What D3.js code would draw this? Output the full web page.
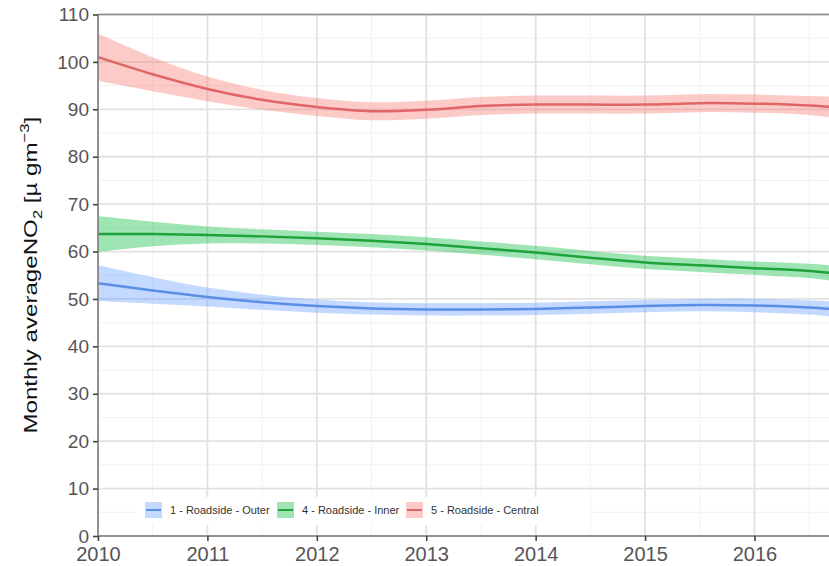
<!DOCTYPE html>
<html>
<head>
<meta charset="utf-8">
<script src="https://cdn.jsdelivr.net/npm/d3@7"></script>
<style>
  html, body { margin: 0; padding: 0; background: #fff; }
  svg { display: block; font-family: "Liberation Sans", Arial, sans-serif; }
</style>
</head>
<body>
<svg id="chart" width="829" height="566"></svg>
<script>
// Smoothed monthly NO2 trends per site type, sampled every half year
const years = [2010, 2010.5, 2011, 2011.5, 2012, 2012.5, 2013, 2013.5, 2014, 2014.5, 2015, 2015.5, 2016, 2016.5, 2016.8];

const outerMean = [53.3, 51.8, 50.4, 49.3, 48.5, 48.0, 47.8, 47.8, 47.9, 48.2, 48.5, 48.7, 48.6, 48.2, 47.7];
const outerHalf = [3.8, 2.8, 2.0, 1.6, 1.4, 1.3, 1.3, 1.3, 1.3, 1.3, 1.3, 1.3, 1.4, 1.5, 1.7];

const innerMean = [63.7, 63.7, 63.5, 63.2, 62.8, 62.3, 61.6, 60.7, 59.8, 58.7, 57.7, 57.1, 56.5, 55.9, 55.2];
const innerHalf = [3.8, 2.6, 1.8, 1.5, 1.4, 1.4, 1.4, 1.4, 1.4, 1.4, 1.4, 1.4, 1.4, 1.5, 1.7];

const centralMean = [101.0, 97.4, 94.3, 92.0, 90.5, 89.6, 89.9, 90.7, 91.0, 91.0, 91.0, 91.3, 91.2, 90.8, 90.3];
const centralHalf = [5.0, 3.6, 2.6, 2.1, 1.9, 1.9, 1.9, 1.9, 1.9, 1.9, 1.9, 1.9, 1.9, 2.0, 2.3];

const seriesNames = ["1 - Roadside - Outer", "4 - Roadside - Inner", "5 - Roadside - Central"];
const lineColors = ["#5b8fe6", "#1fa23a", "#e06666"];
const fillColors = ["#619CFF", "#00BA38", "#F8766D"];

const xTicks = [2010, 2011, 2012, 2013, 2014, 2015, 2016];
const yTicks = [0, 10, 20, 30, 40, 50, 60, 70, 80, 90, 100, 110];

const series = [
  { name: seriesNames[0], mean: outerMean, half: outerHalf, line: lineColors[0], fill: fillColors[0] },
  { name: seriesNames[1], mean: innerMean, half: innerHalf, line: lineColors[1], fill: fillColors[1] },
  { name: seriesNames[2], mean: centralMean, half: centralHalf, line: lineColors[2], fill: fillColors[2] }
];

const svg = d3.select("#chart");
const pLeft = 98, pTop = 14.5, pBottom = 536, pRight = 842;

const x = d3.scaleLinear().domain([2010, 2016.8]).range([pLeft, pRight]);
const y = d3.scaleLinear().domain([0, 110]).range([pBottom, pTop]);

// grid: minor then major
const minorX = d3.range(2010.5, 2016.8, 1);
const minorY = d3.range(5, 110, 10);
const grid = svg.append("g");
grid.selectAll(".mx").data(minorX).join("line")
  .attr("x1", d => x(d)).attr("x2", d => x(d)).attr("y1", pTop).attr("y2", pBottom)
  .attr("stroke", "#f1f1f1").attr("stroke-width", 1);
grid.selectAll(".my").data(minorY).join("line")
  .attr("x1", pLeft).attr("x2", pRight).attr("y1", d => y(d)).attr("y2", d => y(d))
  .attr("stroke", "#f1f1f1").attr("stroke-width", 1);
grid.selectAll(".Mx").data(xTicks).join("line")
  .attr("x1", d => x(d)).attr("x2", d => x(d)).attr("y1", pTop).attr("y2", pBottom)
  .attr("stroke", "#e2e2e2").attr("stroke-width", 1.8);
grid.selectAll(".My").data(yTicks).join("line")
  .attr("x1", pLeft).attr("x2", pRight).attr("y1", d => y(d)).attr("y2", d => y(d))
  .attr("stroke", "#e2e2e2").attr("stroke-width", 1.8);

// ribbons and smoothed lines
const curve = d3.curveCatmullRom.alpha(0.5);
const area = d3.area()
  .x((d, i) => x(years[i]))
  .y0(d => y(d[0] - d[1]))
  .y1(d => y(d[0] + d[1]))
  .curve(curve);
const line = d3.line()
  .x((d, i) => x(years[i]))
  .y(d => y(d))
  .curve(curve);

series.forEach(s => {
  const pts = s.mean.map((m, i) => [m, s.half[i]]);
  svg.append("path").attr("d", area(pts))
    .attr("fill", s.fill).attr("fill-opacity", 0.38);
});
series.forEach(s => {
  svg.append("path").attr("d", line(s.mean))
    .attr("fill", "none").attr("stroke", s.line).attr("stroke-width", 2.5);
});

// panel border (top) and axis lines
svg.append("line").attr("x1", pLeft).attr("x2", pRight).attr("y1", pTop).attr("y2", pTop)
  .attr("stroke", "#8a8a8a").attr("stroke-width", 1.6);

const xAxis = d3.axisBottom(x).tickValues(xTicks).tickFormat(d3.format("d")).tickSize(5).tickPadding(6);
const gx = svg.append("g").attr("transform", `translate(0,${pBottom})`).call(xAxis);
gx.select(".domain").attr("d", `M${pLeft},0H${pRight}`).attr("stroke", "#777").attr("stroke-width", 1.6);
gx.selectAll(".tick line").attr("stroke", "#444").attr("stroke-width", 1.6);
gx.selectAll(".tick text").attr("fill", "#555").attr("font-size", 20)
  .attr("font-family", "Liberation Sans, Arial, sans-serif");

const yAxis = d3.axisLeft(y).tickValues(yTicks).tickSize(5).tickPadding(4);
const gy = svg.append("g").attr("transform", `translate(${pLeft},0)`).call(yAxis);
gy.select(".domain").attr("d", `M0,${pBottom}V${pTop}`).attr("stroke", "#888").attr("stroke-width", 1.8);
gy.selectAll(".tick line").attr("stroke", "#444").attr("stroke-width", 1.6);
gy.selectAll(".tick text").attr("fill", "#555").attr("font-size", 19)
  .attr("font-family", "Liberation Sans, Arial, sans-serif");

// y axis title
const title = svg.append("text")
  .attr("transform", `translate(37,${(pTop + pBottom) / 2}) rotate(-90) scale(1.27,1)`)
  .attr("text-anchor", "middle")
  .attr("font-size", 19)
  .attr("fill", "#111");
title.append("tspan").text("Monthly averageNO");
title.append("tspan").attr("font-size", 13).attr("dy", 5).text("2");
title.append("tspan").attr("dy", -5).text(" [\u00b5 gm");
title.append("tspan").attr("font-size", 13).attr("dy", -8).text("\u22123");
title.append("tspan").attr("dy", 8).text("]");

// legend inside the panel
const legend = svg.append("g");
legend.append("rect").attr("x", 137).attr("y", 497).attr("width", 453).attr("height", 28)
  .attr("fill", "#fff");
const keyX = [145, 277, 406];
series.forEach((s, i) => {
  const g = legend.append("g").attr("transform", `translate(${keyX[i]},502)`);
  g.append("rect").attr("width", 17).attr("height", 16).attr("fill", s.fill).attr("fill-opacity", 0.38);
  g.append("line").attr("x1", 1).attr("x2", 16).attr("y1", 8).attr("y2", 8)
    .attr("stroke", s.line).attr("stroke-width", 2);
  g.append("text").attr("x", 25).attr("y", 12).attr("font-size", 11).attr("fill", "#333")
    .text(s.name);
});
</script>
</body>
</html>
